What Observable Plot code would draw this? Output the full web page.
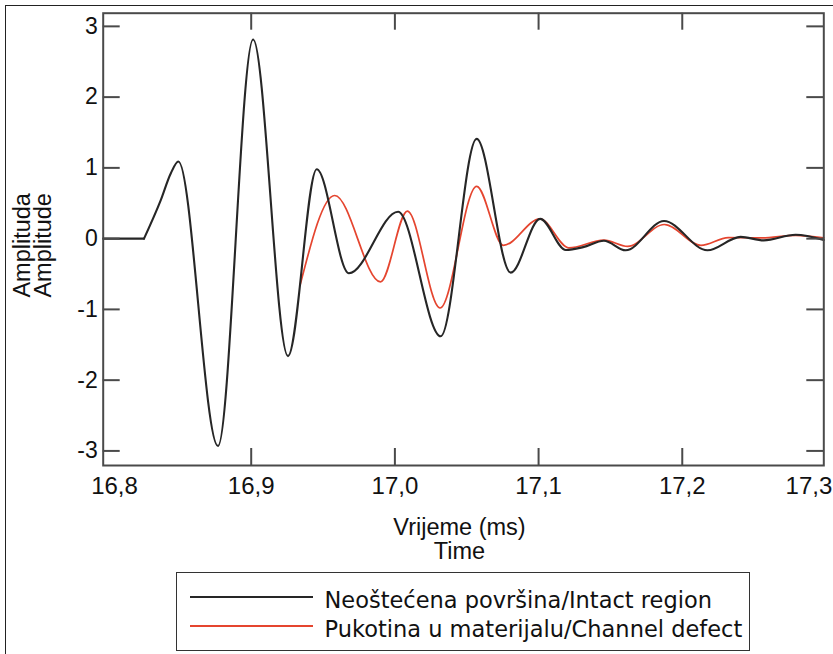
<!DOCTYPE html>
<html><head><meta charset="utf-8">
<script src="https://cdn.jsdelivr.net/npm/d3@7"></script>
<script src="https://cdn.jsdelivr.net/npm/@observablehq/plot@0.6"></script>
<style>
html,body{margin:0;padding:0;background:#fff;}
#wrap{position:relative;width:833px;height:654px;overflow:hidden;background:#fff;}
#outer{position:absolute;left:5px;top:5px;width:900px;height:700px;border-left:1.5px solid #222;border-top:1.5px solid #222;pointer-events:none;}
#legend{position:absolute;left:176px;top:572px;width:572px;height:77px;border:1.5px solid #333;font-family:"DejaVu Sans",sans-serif;font-size:22.5px;color:#111;background:#fff;}
#legend .sw{position:absolute;left:12.5px;width:123px;height:1.7px;}
#legend .lb{position:absolute;left:147.5px;line-height:29px;white-space:nowrap;}
</style>
</head><body>
<div id="wrap"></div>
<script>
// ---- data ----
const intactT = [16.797, 16.8254, 16.837, 16.844, 16.8493, 16.8769, 16.9013, 16.9256, 16.9456, 16.968, 17.0022, 17.0319, 17.0569, 17.0806, 17.1011, 17.119, 17.131, 17.1455, 17.1606, 17.1873, 17.2175, 17.2406, 17.2567, 17.2789, 17.2985];
const intactA = [0, 0, 0.54, 0.92, 1.09, -2.93, 2.815, -1.66, 0.98, -0.49, 0.38, -1.38, 1.41, -0.48, 0.28, -0.16, -0.12, -0.03, -0.165, 0.25, -0.165, 0.025, -0.025, 0.055, -0.02];
const defectT = [16.934, 16.9581, 16.990, 17.0087, 17.0314, 17.0569, 17.0755, 17.101, 17.121, 17.1455, 17.162, 17.1875, 17.213, 17.232, 17.255, 17.279, 17.2985];
const defectA = [-0.66, 0.61, -0.61, 0.39, -0.98, 0.74, -0.095, 0.28, -0.13, -0.02, -0.11, 0.2, -0.095, 0.015, 0.01, 0.047, 0.01];
const xTicks = [16.9, 17.0, 17.1, 17.2];
const xEndTicks = [16.8, 17.3];
const yTicks = [-3, -2, -1, 0, 1, 2, 3];
const xTitle = ["Vrijeme (ms)", "Time"];
const yTitle = ["Amplituda", "Amplitude"];
const seriesNames = ["Neoštećena površina/Intact region", "Pukotina u materijalu/Channel defect"];
const seriesColors = ["#262626", "#e5452f"];

const intact = intactT.map((t, i) => ({t, a: intactA[i]}));
const defect = defectT.map((t, i) => ({t, a: defectA[i]}));
// the pre-trigger baseline is straight; the wave starts with a sharp corner
const intactFlat = intact.slice(0, 2);
const intactWave = intact.slice(1);

const W = 833, H = 568;
const mL = 102.7, mT = 12.7, mR = 833 - 823.3, mB = H - 465;
const plotW = W - mL - mR, plotH = H - mT - mB;
const tk = 17;
const frameColor = "#4a4a4a";
const fmtX = d => d.toFixed(1).replace(".", ",");
const fmtY = d => `${d}`;

const chart = Plot.plot({
  width: W, height: H,
  marginLeft: mL, marginRight: mR, marginTop: mT, marginBottom: mB,
  x: {domain: [16.797, 17.2985]},
  y: {domain: [-3.206, 3.186]},
  style: {fontFamily: "'Liberation Sans', Arial, sans-serif", fontSize: "23.5px", color: "#111", background: "transparent", overflow: "visible"},
  marks: [
    Plot.line(defect, {x: "t", y: "a", stroke: seriesColors[1], strokeWidth: 1.7, curve: "monotone-x"}),
    Plot.line(intactFlat, {x: "t", y: "a", stroke: seriesColors[0], strokeWidth: 2.1, curve: "linear"}),
    Plot.line(intactWave, {x: "t", y: "a", stroke: seriesColors[0], strokeWidth: 2.1, curve: "monotone-x"}),
    Plot.tickY(yTicks, {y: d => d, stroke: frameColor, strokeWidth: 2, insetRight: plotW - tk}),
    Plot.tickY(yTicks, {y: d => d, stroke: frameColor, strokeWidth: 2, insetLeft: plotW - tk}),
    Plot.tickX(xTicks, {x: d => d, stroke: frameColor, strokeWidth: 2, insetTop: plotH - tk}),
    Plot.tickX(xTicks, {x: d => d, stroke: frameColor, strokeWidth: 2, insetBottom: plotH - tk}),
    Plot.frame({stroke: frameColor, strokeWidth: 2}),
    Plot.axisY(yTicks, {label: null, tickSize: 0, tickPadding: 5.5, tickFormat: fmtY, fontSize: 23}),
    Plot.axisX(xTicks, {label: null, tickSize: 0, tickPadding: 11, tickFormat: fmtX, fontSize: 24}),
    Plot.axisX([xEndTicks[0]], {label: null, tickSize: 0, tickPadding: 11, tickFormat: fmtX, fontSize: 24, dx: 7}),
    Plot.axisX([xEndTicks[1]], {label: null, tickSize: 0, tickPadding: 11, tickFormat: fmtX, fontSize: 24, dx: -17}),
    Plot.text([xTitle.join("\n")], {text: d => d, frameAnchor: "bottom", lineAnchor: "top", textAnchor: "middle", dy: 53, dx: -4, lineHeight: 1.0, fill: "#111"}),
    Plot.text([yTitle.join("\n")], {text: d => d, frameAnchor: "left", rotate: -90, lineAnchor: "middle", textAnchor: "middle", dx: -69.7, dy: 6, lineHeight: 0.92, fill: "#111"})
  ]
});

const wrap = document.getElementById("wrap");
wrap.appendChild(chart);

const legend = document.createElement("div");
legend.id = "legend";
seriesNames.forEach((name, i) => {
  const sw = document.createElement("div");
  sw.className = "sw";
  sw.style.top = (23 + i * 29.4) + "px";
  sw.style.background = seriesColors[i];
  legend.appendChild(sw);
  const lb = document.createElement("div");
  lb.className = "lb";
  lb.style.top = (12.5 + i * 29.4) + "px";
  lb.textContent = name;
  legend.appendChild(lb);
});
wrap.appendChild(legend);

const outer = document.createElement("div");
outer.id = "outer";
wrap.appendChild(outer);
</script>
</body></html>
